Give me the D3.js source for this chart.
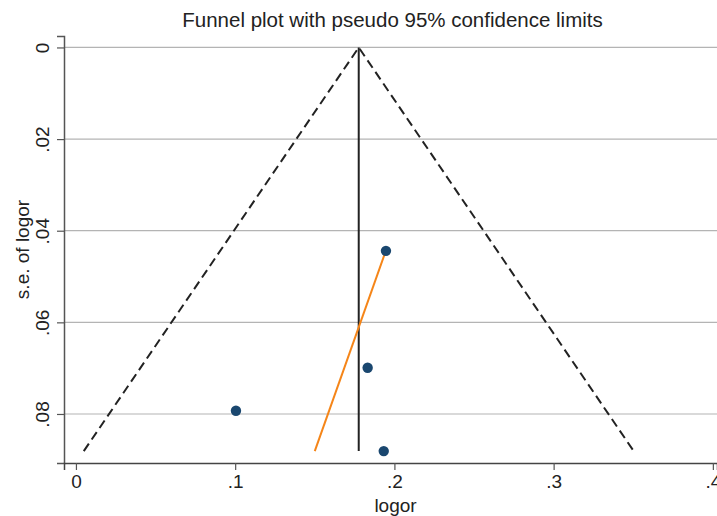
<!DOCTYPE html>
<html>
<head>
<meta charset="utf-8">
<script src="https://cdn.jsdelivr.net/npm/d3@7"></script>
<style>
  body { margin: 0; background: #fff; }
  text { font-family: Arial, "Liberation Sans", sans-serif; fill: #222; }
</style>
</head>
<body>
<svg id="chart" width="717" height="516"></svg>
<script>
// study estimates
const logor = [0.1947, 0.1832, 0.1005, 0.1933]
const se = [0.0444, 0.0699, 0.0793, 0.0881]
// pooled estimate and pseudo 95% limits
const pooled = 0.1776
const seMax = 0.0881
const z = 1.96
// fitted (orange) line endpoints: [logor, se]
const fitLine = [[0.1943, 0.0447], [0.150, 0.0881]]
const xTicks = [0, 0.1, 0.2, 0.3, 0.4]
const yTicks = [0, 0.02, 0.04, 0.06, 0.08]

const fmt = d => d === 0 ? "0" : d3.format(".2f")(d).replace(/^0/, "").replace(/0$/, "")

const svg = d3.select("#chart")
const plot = { left: 64, right: 717, top: 36, bottom: 463 }

const x = d3.scaleLinear().domain([-0.0075, 0.4026]).range([plot.left, plot.right])
const y = d3.scaleLinear().domain([-0.0025, 0.0907]).range([plot.top, plot.bottom])

// gridlines
svg.append("g").selectAll("line")
    .data(yTicks)
    .enter().append("line")
    .attr("x1", plot.left).attr("x2", plot.right)
    .attr("y1", d => y(d)).attr("y2", d => y(d))
    .style("stroke", "#b4b4b4")
    .style("stroke-width", 1.2)

// axes
const yAxis = svg.append("g")
    .attr("transform", `translate(${plot.left},0)`)
    .call(d3.axisLeft(y).tickValues(yTicks).tickFormat(fmt).tickSize(7))
yAxis.select(".domain").attr("stroke", "#555").attr("stroke-width", 1.5)
yAxis.selectAll(".tick line").attr("stroke", "#555").attr("stroke-width", 1.2)
yAxis.selectAll(".tick text")
    .attr("font-size", 19)
    .attr("text-anchor", "middle")
    .attr("x", 0).attr("y", 0).attr("dy", 0)
    .attr("transform", "translate(-15,0) rotate(-90)")

const xAxis = svg.append("g")
    .attr("transform", `translate(0,${plot.bottom})`)
    .call(d3.axisBottom(x).tickValues(xTicks).tickFormat(fmt).tickSize(7).tickPadding(5))
xAxis.select(".domain").attr("stroke", "#444").attr("stroke-width", 1.5)
xAxis.selectAll(".tick line").attr("stroke", "#555").attr("stroke-width", 1.2)
xAxis.selectAll(".tick text").attr("font-size", 19)

// funnel limits
const dash = [[pooled - z * seMax, seMax], [pooled, 0], [pooled + z * seMax, seMax]]
svg.append("path")
    .attr("d", d3.line().x(d => x(d[0])).y(d => y(d[1]))(dash))
    .style("fill", "none")
    .style("stroke", "#222")
    .style("stroke-width", 2)
    .style("stroke-dasharray", "9,5")

// pooled line
svg.append("line")
    .attr("x1", x(pooled)).attr("x2", x(pooled))
    .attr("y1", y(0)).attr("y2", y(seMax))
    .style("stroke", "#222")
    .style("stroke-width", 2)

// fitted line
svg.append("path")
    .attr("d", d3.line().x(d => x(d[0])).y(d => y(d[1]))(fitLine))
    .style("fill", "none")
    .style("stroke", "#f58518")
    .style("stroke-width", 2)

// points
svg.append("g").selectAll("circle")
    .data(logor)
    .enter().append("circle")
    .attr("cx", d => x(d))
    .attr("cy", (d, i) => y(se[i]))
    .attr("r", 5.2)
    .attr("fill", "#1a476f")

// titles
svg.append("text")
    .attr("x", (plot.left + plot.right) / 2 + 2).attr("y", 27)
    .attr("text-anchor", "middle")
    .attr("font-size", 20.5)
    .text("Funnel plot with pseudo 95% confidence limits")

svg.append("text")
    .attr("x", (plot.left + plot.right) / 2 + 5).attr("y", 512)
    .attr("text-anchor", "middle")
    .attr("font-size", 19)
    .text("logor")

svg.append("text")
    .attr("transform", `translate(29,${(plot.top + plot.bottom) / 2}) rotate(-90)`)
    .attr("text-anchor", "middle")
    .attr("font-size", 19)
    .text("s.e. of logor")
</script>
</body>
</html>
